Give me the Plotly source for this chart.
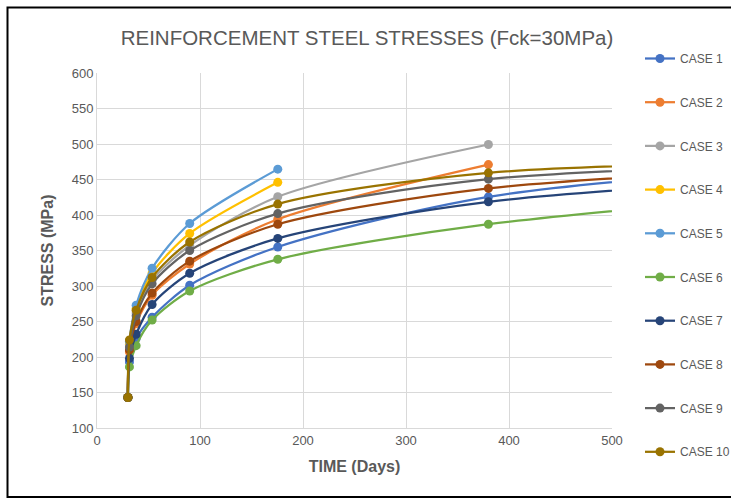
import plotly.graph_objects as go

time_days = [30, 31.5, 38, 53.5, 90, 175.5, 380, 730]

case_names = ["CASE 1", "CASE 2", "CASE 3", "CASE 4", "CASE 5",
              "CASE 6", "CASE 7", "CASE 8", "CASE 9", "CASE 10"]

case1 = [143, 193, 226, 256, 301, 355, 425.6, 474]
case2 = [143, 207, 247, 287, 331, 394, 471]
case3 = [143, 218, 262, 308, 357, 425.7, 499.3]
case4 = [143, 220, 268, 318, 374, 446]
case5 = [143, 222, 273, 325, 388, 464.6]
case6 = [143, 186, 216, 252, 293, 337.6, 387, 435]
case7 = [143, 198, 232, 274, 318, 367, 418.6, 456]
case8 = [143, 210, 250, 290, 335, 387, 437.5, 470]
case9 = [143, 214, 258, 303, 350, 402, 450.5, 474]
case10 = [143, 224, 266, 312, 362, 415.4, 459.4, 476]

series = [case1, case2, case3, case4, case5, case6, case7, case8, case9, case10]
colors = ["#4472C4", "#ED7D31", "#A5A5A5", "#FFC000", "#5B9BD5",
          "#70AD47", "#264478", "#9E480E", "#636363", "#997300"]

x_ticks = [0, 100, 200, 300, 400, 500]
y_ticks = [100, 150, 200, 250, 300, 350, 400, 450, 500, 550, 600]

fig = go.Figure()
for name, vals, col in zip(case_names, series, colors):
    fig.add_trace(go.Scatter(
        x=time_days[:len(vals)], y=vals, name=name, legendgroup=name,
        mode="lines+markers",
        line=dict(color=col, width=2.25, shape="spline", smoothing=0.8),
        marker=dict(color=col, size=9),
    ))

W, H = 731, 500
L, R, T, B = 97, 119, 73, 72
pw, ph = W - L - R, H - T - B

def px2paper_x(px):
    return (px - L) / pw

def px2paper_y(py):
    return (H - B - py) / ph

font_fam = "Liberation Sans, Arial, sans-serif"
fig.update_layout(
    width=W, height=H,
    margin=dict(l=L, r=R, t=T, b=B, autoexpand=False),
    paper_bgcolor="white", plot_bgcolor="white",
    title=dict(text="REINFORCEMENT STEEL STRESSES (Fck=30MPa)",
               x=px2paper_x(367), xref="paper", xanchor="center",
               y=1 - 38 / H, yanchor="middle",
               font=dict(family=font_fam, size=20.5, color="#595959")),
    font=dict(family=font_fam, color="#595959"),
    xaxis=dict(range=[0, 500], tickvals=x_ticks, showgrid=True,
               gridcolor="#D9D9D9", gridwidth=1, zeroline=False,
               showline=True, linecolor="#D9D9D9", ticks="",
               tickfont=dict(size=13, color="#595959"),
               title=dict(text="<b>TIME (Days)</b>", standoff=14,
                          font=dict(size=16, color="#595959"))),
    yaxis=dict(range=[100, 600], tickvals=y_ticks, showgrid=True,
               gridcolor="#D9D9D9", gridwidth=1, zeroline=False,
               showline=True, linecolor="#D9D9D9", ticks="",
               tickfont=dict(size=13, color="#595959"),
               title=dict(text="<b>STRESS (MPa)</b>", standoff=14,
                          font=dict(size=16, color="#595959"))),
    legend=dict(x=px2paper_x(640), y=px2paper_y(44), xanchor="left", yanchor="top",
                font=dict(size=12, color="#595959"),
                tracegroupgap=24.7, itemwidth=30, bgcolor="rgba(0,0,0,0)",
                maxheight=480),
    showlegend=True,
)

fig.add_shape(type="rect", xref="paper", yref="paper",
              x0=px2paper_x(7.5), x1=px2paper_x(760),
              y0=px2paper_y(497), y1=px2paper_y(7.5),
              line=dict(color="black", width=2), fillcolor="rgba(0,0,0,0)",
              layer="above")

fig.write_html("out.html")
